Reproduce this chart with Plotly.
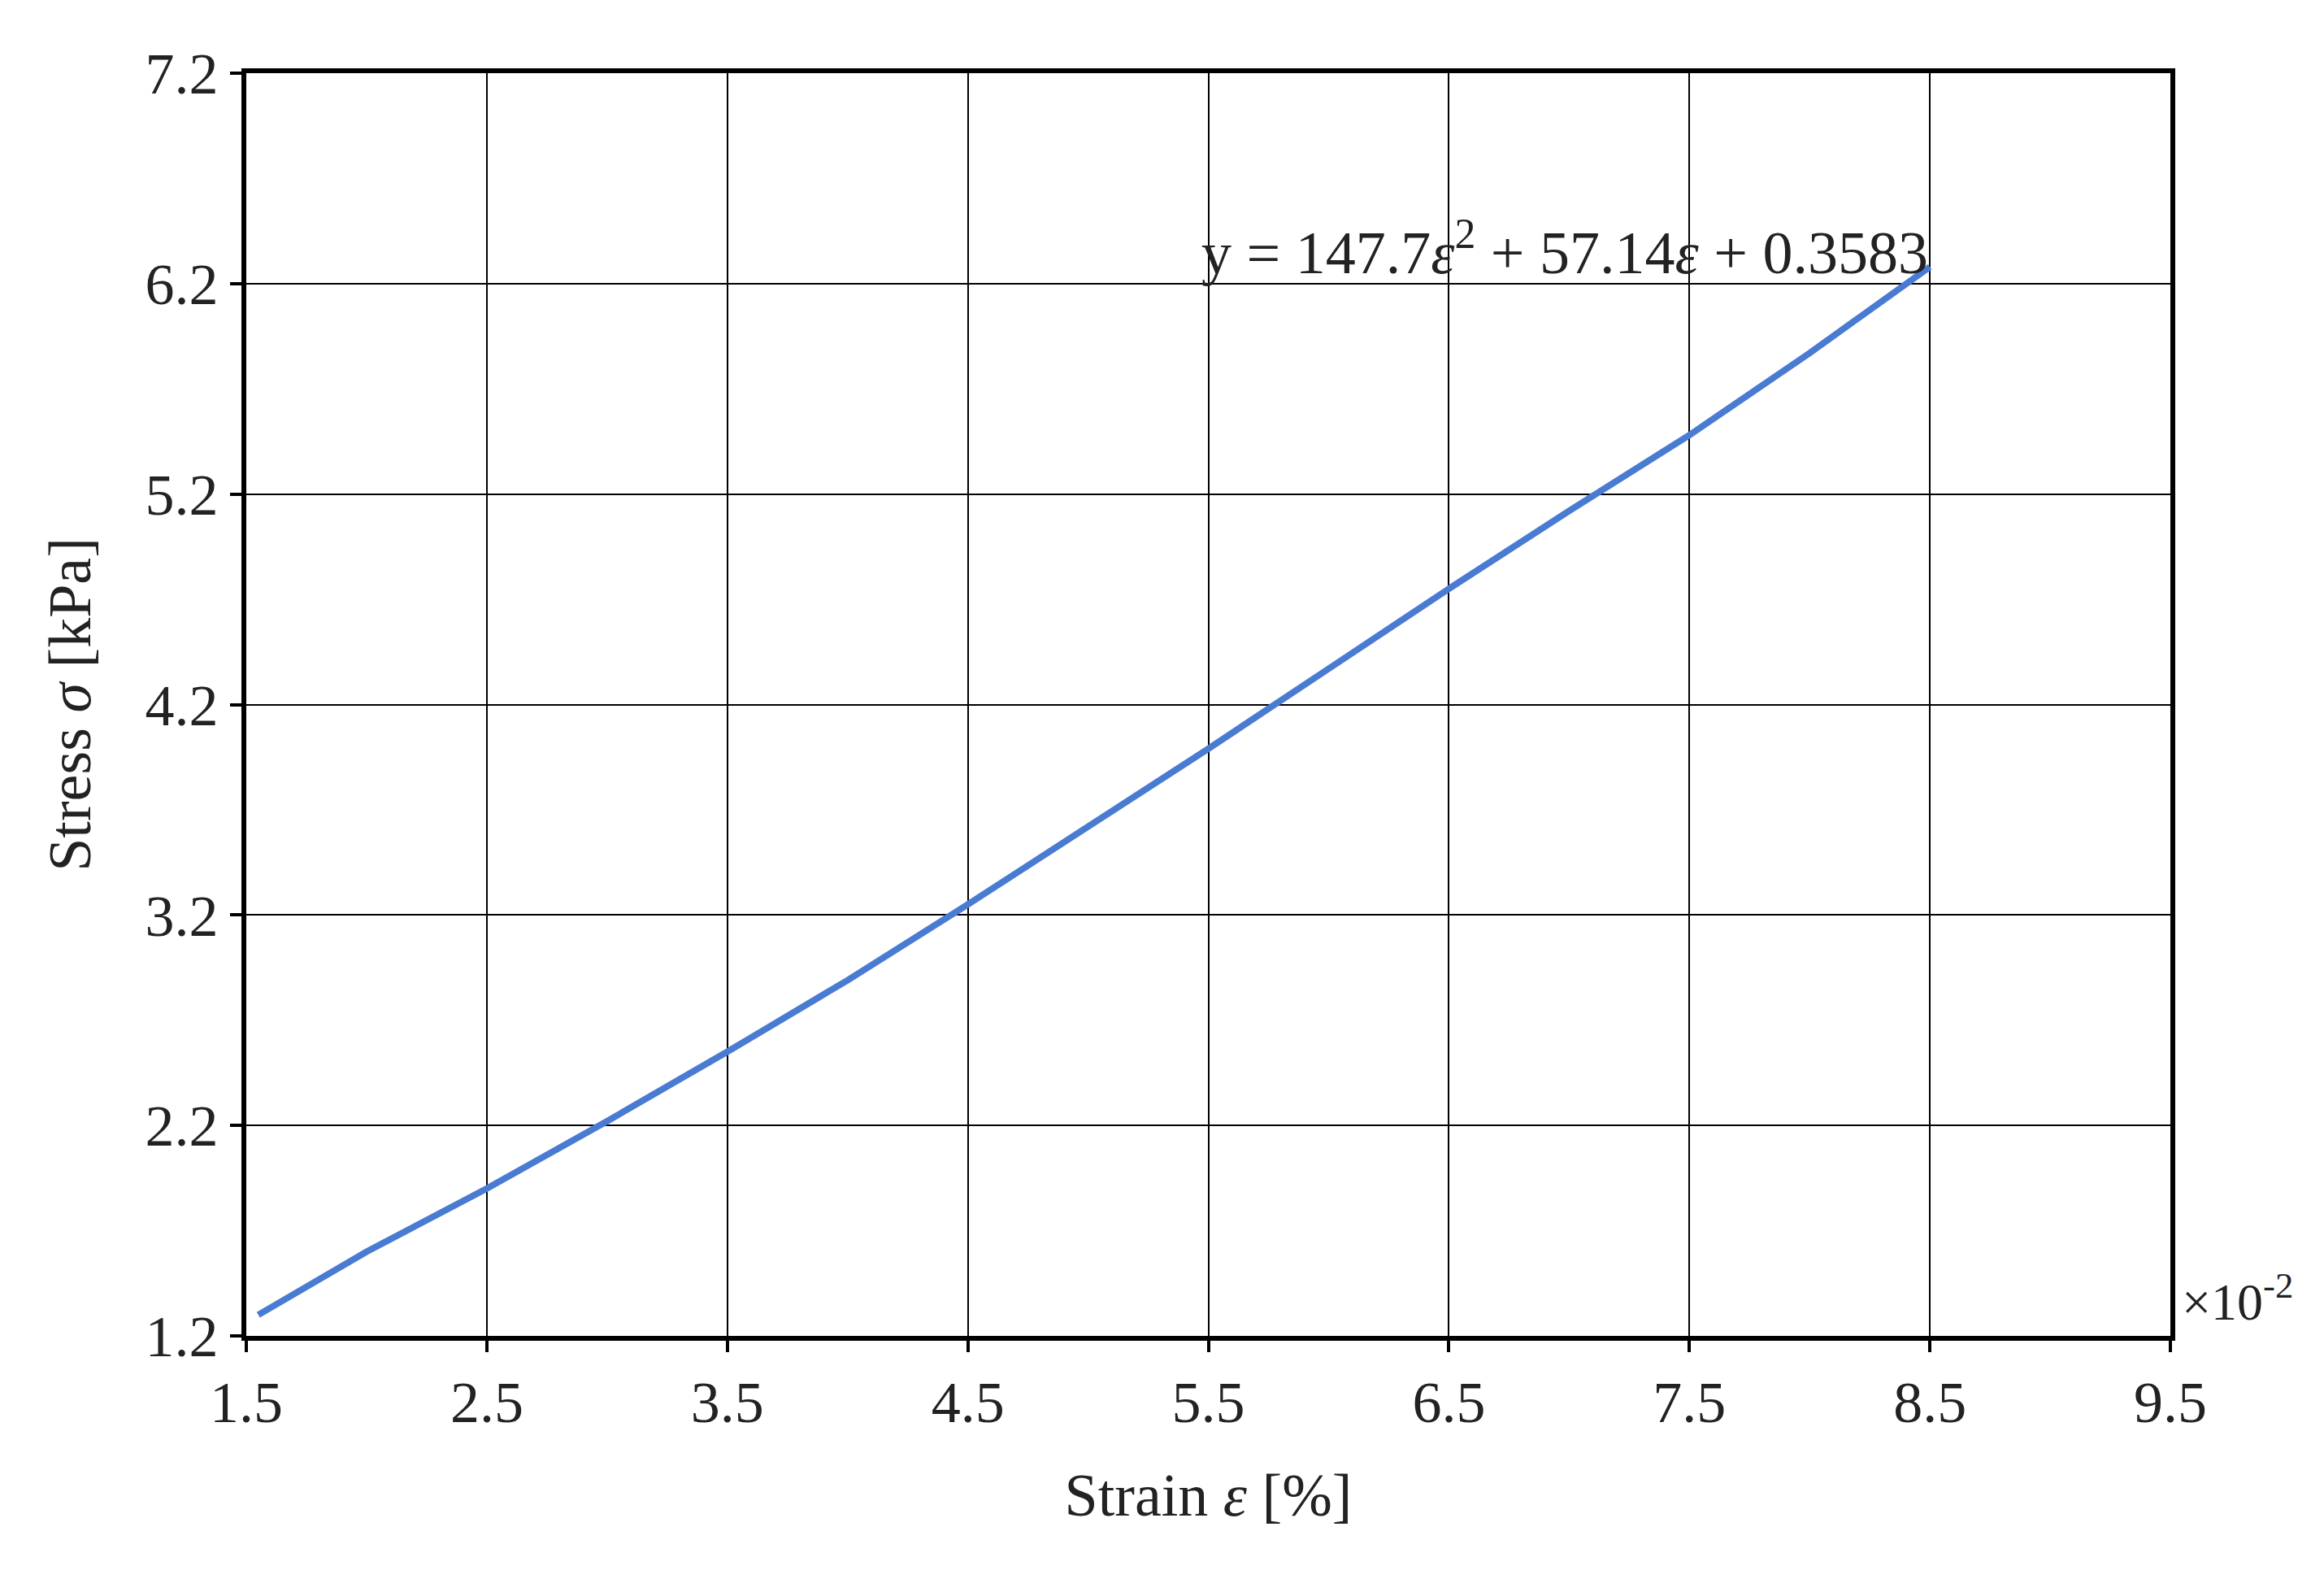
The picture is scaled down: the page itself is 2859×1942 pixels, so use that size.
import plotly.graph_objects as go

# strain (x10^-2 %) and stress (kPa)
strain = [1.55, 2.0, 2.5, 3.0, 3.5, 4.0, 4.5, 5.0, 5.5, 6.0, 6.5, 7.0, 7.5, 8.0, 8.5]
stress = [1.30, 1.60, 1.90, 2.22, 2.55, 2.89, 3.25, 3.62, 3.99, 4.37, 4.75, 5.12, 5.48, 5.87, 6.28]

x_ticks = [1.5, 2.5, 3.5, 4.5, 5.5, 6.5, 7.5, 8.5, 9.5]
y_ticks = [1.2, 2.2, 3.2, 4.2, 5.2, 6.2, 7.2]

font = "Liberation Serif"

fig = go.Figure()
fig.add_trace(go.Scatter(x=strain, y=stress, mode="lines", line=dict(color="#4a7bd3", width=8),
                         showlegend=False))

axis_style = dict(showgrid=True, gridcolor="black", gridwidth=2, showline=True, linecolor="black",
                  linewidth=6, mirror=True, ticks="outside", ticklen=14, tickwidth=4, tickcolor="black",
                  zeroline=False, tickfont=dict(family=font, size=72, color="#222"))

fig.update_xaxes(range=[1.5, 9.5], tickvals=x_ticks, ticktext=[f"{v:.1f}" for v in x_ticks],
                 title=dict(text="Strain <i>ε</i> [%]", font=dict(family=font, size=74, color="#222"), standoff=50),
                 **axis_style)
fig.update_yaxes(range=[1.2, 7.2], tickvals=y_ticks, ticktext=[f"{v:.1f}" for v in y_ticks],
                 title=dict(text="Stress <i>σ</i> [kPa]", font=dict(family=font, size=74, color="#222"), standoff=45),
                 **axis_style)

fig.add_annotation(x=8.5, y=6.2, xref="x", yref="y", text="y = 147.7<i>ε</i><sup>2</sup> + 57.14<i>ε</i> + 0.3583",
                   showarrow=False, xanchor="right", yanchor="bottom", yshift=-5,
                   font=dict(family=font, size=74, color="#222"))
fig.add_annotation(x=1.0, y=0.03, xref="paper", yref="paper", text="×10<sup>-2</sup>",
                   showarrow=False, xanchor="left", yanchor="middle", xshift=12,
                   font=dict(family=font, size=64, color="#222"))

fig.update_layout(width=2859, height=1942, paper_bgcolor="white", plot_bgcolor="white",
                  margin=dict(l=295, r=197, t=82, b=307))
fig.write_html("out.html")
